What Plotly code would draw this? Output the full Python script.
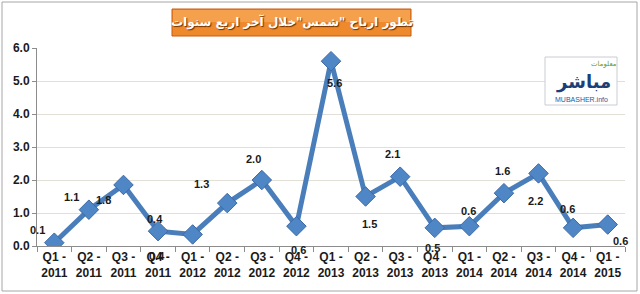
import plotly.graph_objects as go

categories = ["Q1 -<br>2011", "Q2 -<br>2011", "Q3 -<br>2011", "Q4 -<br>2011",
              "Q1 -<br>2012", "Q2 -<br>2012", "Q3 -<br>2012", "Q4 -<br>2012",
              "Q1 -<br>2013", "Q2 -<br>2013", "Q3 -<br>2013", "Q4 -<br>2013",
              "Q1 -<br>2014", "Q2 -<br>2014", "Q3 -<br>2014", "Q4 -<br>2014",
              "Q1 -<br>2015"]
profits = [0.1, 1.1, 1.85, 0.45, 0.35, 1.3, 2.0, 0.6, 5.6, 1.5, 2.1, 0.55, 0.6, 1.6, 2.2, 0.55, 0.65]
value_labels = ["0.1", "1.1", "1.8", "0.4", "0.4", "1.3", "2.0", "0.6", "5.6", "1.5", "2.1",
                "0.5", "0.6", "1.6", "2.2", "0.6", "0.6"]
y_ticks = [0, 1, 2, 3, 4, 5, 6]
y_tick_text = ["0.0", "1.0", "2.0", "3.0", "4.0", "5.0", "6.0"]
title_text = "تطور ارباح \"شمس\"خلال آخر اربع سنوات"

# label offsets in pixels (dx, dy with dy positive = upward), mimicking the original placement
label_offsets = [(-17, 13), (-17, 13), (-20, -15), (-3, 12), (-36, -22), (-26, 19), (-8, 21),
                 (2, -24), (3, -22), (4, -27), (-8, 23), (-2, -20), (-1, 15), (-1, 22),
                 (-3, -28), (-6, 19), (13, -16)]

W, H = 640, 294
L, R, T, B = 37, 15, 48, 48
pw, ph = W - L - R, H - T - B

def px(xp):
    return (xp - L) / pw

def py(yp):
    return (H - B - yp) / ph

fig = go.Figure()
fig.add_trace(go.Scatter(
    x=categories, y=profits, mode="lines+markers",
    line=dict(color="#4a7ebb", width=5),
    marker=dict(symbol="diamond", size=15, color="#4f86c6",
                line=dict(color="#3b6aa8", width=1)),
    hoverinfo="skip", showlegend=False,
))

for c, v, t, (dx, dy) in zip(categories, profits, value_labels, label_offsets):
    fig.add_annotation(x=c, y=v, xref="x", yref="y", text=t, showarrow=False,
                       xshift=dx, yshift=dy,
                       font=dict(family="Liberation Sans", size=11, color="#1a1a1a", weight="bold"))

# outer frame
fig.add_shape(type="rect", xref="paper", yref="paper",
              x0=px(2), x1=px(637), y0=py(291), y1=py(2),
              line=dict(color="#a6a6a6", width=1), fillcolor="rgba(0,0,0,0)", layer="below")

# title box
fig.add_shape(type="rect", xref="paper", yref="paper",
              x0=px(172), x1=px(411), y0=py(36), y1=py(9),
              line=dict(color="#c55a11", width=1), fillcolor="#ef8a2c")
fig.add_shape(type="rect", xref="paper", yref="paper",
              x0=px(173), x1=px(410), y0=py(22), y1=py(10),
              line=dict(width=0), fillcolor="rgba(255,200,140,0.35)")
fig.add_annotation(xref="paper", yref="paper", x=px(291.5), y=py(22.5), text=title_text,
                   showarrow=False, xanchor="center", yanchor="middle",
                   font=dict(family="DejaVu Sans", size=12, color="white", weight="bold",
                             shadow="1px 1px 1px #6b3000"))

# logo
fig.add_shape(type="rect", xref="paper", yref="paper",
              x0=px(545), x1=px(617), y0=py(105), y1=py(57),
              line=dict(color="#c8ccd4", width=1), fillcolor="white")
fig.add_annotation(xref="paper", yref="paper", x=px(583), y=py(82), text="مباشر",
                   showarrow=False, xanchor="center", yanchor="middle",
                   font=dict(family="DejaVu Sans", size=18, color="#1c3f7a", weight="bold"))
fig.add_annotation(xref="paper", yref="paper", x=px(604), y=py(64), text="معلومات",
                   showarrow=False, xanchor="center", yanchor="middle",
                   font=dict(family="DejaVu Sans", size=7, color="#6a9a2a"))
fig.add_annotation(xref="paper", yref="paper", x=px(581), y=py(99.5), text="MUBASHER.info",
                   showarrow=False, xanchor="center", yanchor="middle",
                   font=dict(family="Liberation Sans", size=7, color="#2a5a9a"))

fig.update_layout(
    width=W, height=H, margin=dict(l=L, r=R, t=T, b=B),
    paper_bgcolor="white", plot_bgcolor="white",
    xaxis=dict(type="category", showgrid=False, showline=True, linecolor="#8c8c8c", linewidth=1,
               ticks="outside", tickson="boundaries", ticklen=5, tickcolor="#8c8c8c",
               tickangle=0,
               tickfont=dict(family="Liberation Sans", size=12, color="#1a1a1a", weight="bold"),
               range=[-0.5, len(categories) - 0.5], fixedrange=True),
    yaxis=dict(range=[0, 6], tickvals=y_ticks, ticktext=y_tick_text, showgrid=True,
               gridcolor="#e2dfd6", gridwidth=1, showline=True, linecolor="#8c8c8c", linewidth=1,
               ticks="outside", ticklen=4, tickcolor="#8c8c8c", zeroline=False,
               tickfont=dict(family="Liberation Sans", size=12, color="#1a1a1a", weight="bold"),
               fixedrange=True),
)

fig.write_html("out.html")
